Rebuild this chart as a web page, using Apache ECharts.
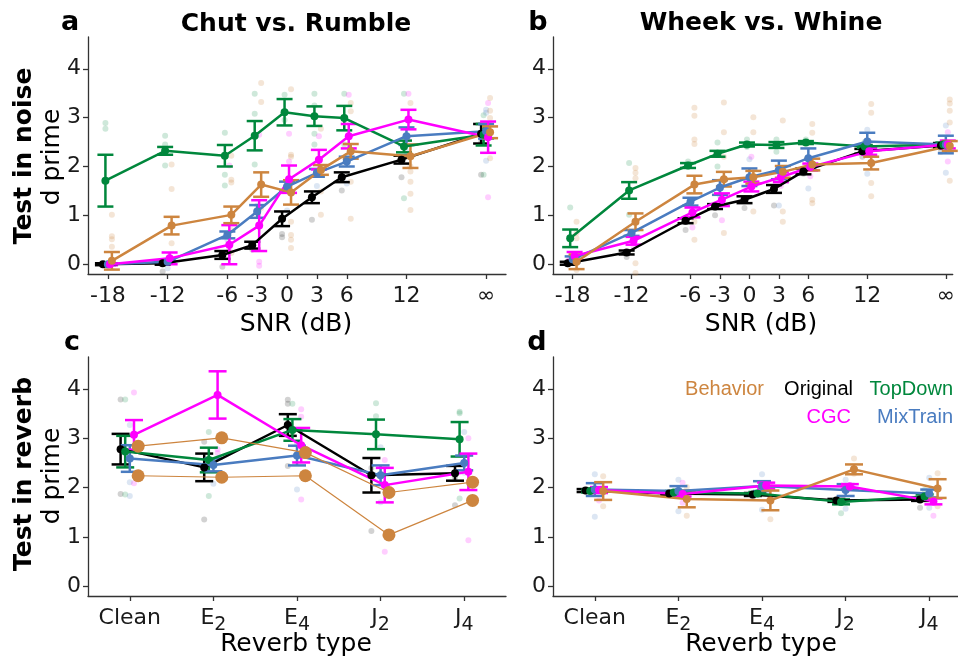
<!DOCTYPE html>
<html>
<head>
<meta charset="utf-8">
<script src="https://cdn.jsdelivr.net/npm/echarts@6/dist/echarts.min.js"></script>
<style>
html, body { margin: 0; padding: 0; background: #ffffff; }
#chart { width: 958px; height: 658px; }
</style>
</head>
<body>
<div id="chart"></div>
<script>
// ---------- axes ----------
const snrValues = [-18, -12, -6, -3, 0, 3, 6, 12, 20];
const snrLabels = ['-18', '-12', '-6', '-3', '0', '3', '6', '12', '\u221E'];
const reverbValues = [0, 1, 2, 3, 4];
const reverbLabels = ['Clean', 'E2', 'E4', 'J2', 'J4'];
const dprimeTicks = [0, 1, 2, 3, 4];

// ---------- Chut vs. Rumble, test in noise (means, s.e.m.) ----------
const chutOriginal = [0.0, 0.02, 0.19, 0.39, 0.93, 1.37, 1.78, 2.14, 2.67];
const chutOriginalErr = [0.02, 0.03, 0.08, 0.07, 0.15, 0.12, 0.1, 0.08, 0.2];
const chutTopDown = [1.71, 2.32, 2.22, 2.63, 3.11, 3.03, 2.99, 2.41, 2.65];
const chutTopDownErr = [0.53, 0.08, 0.22, 0.3, 0.27, 0.2, 0.25, 0.12, 0.22];
const chutMixTrain = [0.0, 0.05, 0.6, 1.08, 1.59, 1.87, 2.1, 2.62, 2.72];
const chutMixTrainErr = [0.02, 0.04, 0.07, 0.13, 0.1, 0.08, 0.1, 0.18, 0.15];
const chutCGC = [0.0, 0.12, 0.4, 0.79, 1.74, 2.14, 2.62, 2.96, 2.6];
const chutCGCErr = [0.02, 0.12, 0.4, 0.52, 0.28, 0.2, 0.25, 0.2, 0.32];
const chutBehavior = [0.07, 0.79, 1.01, 1.63, 1.47, 1.93, 2.31, 2.21, 2.7];
const chutBehaviorErr = [0.18, 0.18, 0.17, 0.25, 0.25, 0.1, 0.15, 0.24, 0.12];

// individual subjects / model instances
const chutOriginalDots = [[0.0], [-0.15], [-0.05], [0.3], [0.62, 0.55], [0.91], [1.51], [1.78], [1.83, 2.5]];
const chutTopDownDots = [[2.89, 2.77], [2.63, 2.45, 2.02], [2.69, 1.83, 1.61], [3.49, 3.08, 2.04], [3.47, 3.1, 2.95], [3.49, 3.25, 2.67, 2.45], [3.49, 2.45], [3.49, 1.35], [3.05, 2.6, 1.83]];
const chutMixTrainDots = [[-0.02], [-0.08], [0.5], [1.2], [1.1], [1.6], [1.65], [2.3], [3.16, 3.1, 2.12]];
const chutCGCDots = [[0.0], [0.12], [2.02, 0.3], [2.65, 0.05, -0.03], [2.67, 2.1], [2.62], [3.47], [3.49, 2.55], [3.3, 1.37]];
const chutBehaviorDots = [[1.01, 0.57, 0.51, 0.36], [2.04, 1.54, 0.43], [2.22, 1.73, 1.67, 0.7, 0.23], [3.71, 3.32, 1.15], [3.58, 2.24, 2.2, 0.87, 0.6, 0.5, 0.33], [2.77, 1.49, 1.01], [3.3, 3.13, 1.69, 0.93], [3.3, 2.0, 1.9, 1.69, 1.44, 1.11], [3.4, 3.14, 2.99, 2.17]];

// ---------- Wheek vs. Whine, test in noise ----------
const wheekOriginal = [0.02, 0.24, 0.89, 1.18, 1.32, 1.54, 1.9, 2.31, 2.43];
const wheekOriginalErr = [0.03, 0.04, 0.05, 0.05, 0.07, 0.08, 0.06, 0.05, 0.05];
const wheekTopDown = [0.53, 1.51, 2.02, 2.26, 2.45, 2.44, 2.49, 2.41, 2.45];
const wheekTopDownErr = [0.18, 0.17, 0.05, 0.06, 0.04, 0.06, 0.03, 0.03, 0.04];
const wheekMixTrain = [0.1, 0.64, 1.28, 1.57, 1.78, 1.93, 2.17, 2.51, 2.45];
const wheekMixTrainErr = [0.06, 0.06, 0.08, 0.15, 0.18, 0.19, 0.2, 0.18, 0.18];
const wheekCGC = [0.17, 0.48, 1.06, 1.32, 1.59, 1.78, 1.99, 2.31, 2.45];
const wheekCGCErr = [0.08, 0.08, 0.1, 0.13, 0.1, 0.1, 0.07, 0.07, 0.08];
const wheekBehavior = [0.05, 0.87, 1.63, 1.74, 1.78, 1.89, 2.04, 2.07, 2.42];
const wheekBehaviorErr = [0.15, 0.17, 0.18, 0.15, 0.13, 0.12, 0.12, 0.13, 0.1];

const wheekOriginalDots = [[0.0], [0.15], [0.7], [1.0], [1.15], [1.2], [1.85], [2.2], [2.3]];
const wheekTopDownDots = [[1.16], [2.07, 1.01], [2.1], [2.49, 2.0], [2.55, 2.4], [2.55, 2.3], [2.55], [2.5], [2.5]];
const wheekMixTrainDots = [[0.15], [0.6], [1.2], [1.4], [2.15], [1.2], [1.55], [1.85, 2.75], [2.84, 1.87]];
const wheekCGCDots = [[0.2], [0.35], [0.75], [0.9], [2.2], [1.6], [1.8], [2.5], [2.1, 2.7]];
const wheekBehaviorDots = [[0.87, 0.64, 0.53, -0.12], [1.97, 1.87, 1.76, 0.02, -0.18], [3.2, 3.04, 2.55, 2.46, 0.87, 0.5], [3.31, 2.7, 2.2, 0.64], [3.01, 2.7, 1.08], [2.94, 1.08, 0.87], [2.87, 2.69, 1.32, 1.25], [3.28, 3.1, 1.66, 1.39], [3.37, 3.29, 3.14, 2.9, 1.71]];

// ---------- Chut vs. Rumble, test in reverb ----------
const revChutOriginal = [2.78, 2.41, 3.27, 2.25, 2.29];
const revChutOriginalErr = [0.31, 0.28, 0.22, 0.35, 0.15];
const revChutTopDown = [2.73, 2.56, 3.17, 3.08, 2.98];
const revChutTopDownErr = [0.32, 0.25, 0.22, 0.3, 0.35];
const revChutMixTrain = [2.59, 2.46, 2.65, 2.25, 2.5];
const revChutMixTrainErr = [0.27, 0.13, 0.2, 0.2, 0.15];
const revChutCGC = [3.07, 3.88, 2.86, 2.05, 2.32];
const revChutCGCErr = [0.3, 0.48, 0.35, 0.35, 0.37];
const revChutAnimal1 = [2.84, 3.01, 2.71, 1.9, 2.11];
const revChutAnimal2 = [2.24, 2.21, 2.24, 1.04, 1.74];

const revChutOriginalDots = [[3.79, 1.87], [2.93, 1.35], [3.78, 3.7, 2.44], [1.12, 2.4], [1.64, 2.2]];
const revChutTopDownDots = [[3.79, 1.86], [3.13, 1.83], [3.7], [3.71, 3.45], [3.54, 3.51, 1.78]];
const revChutMixTrainDots = [[3.27, 2.11, 1.83], [2.08], [1.96, 2.9], [2.82, 1.7], [3.13, 2.3]];
const revChutCGCDots = [[3.93, 2.09], [2.78, 2.7], [3.59, 3.44, 1.76], [2.56, 0.7], [3.0, 0.93]];

// ---------- Wheek vs. Whine, test in reverb ----------
const revWheekOriginal = [1.94, 1.88, 1.86, 1.74, 1.76];
const revWheekOriginalErr = [0.03, 0.03, 0.03, 0.03, 0.03];
const revWheekTopDown = [1.93, 1.9, 1.88, 1.71, 1.82];
const revWheekTopDownErr = [0.03, 0.03, 0.03, 0.05, 0.04];
const revWheekMixTrain = [1.96, 1.93, 2.03, 1.95, 1.88];
const revWheekMixTrainErr = [0.13, 0.1, 0.1, 0.12, 0.08];
const revWheekCGC = [1.95, 1.87, 2.04, 2.02, 1.72];
const revWheekCGCErr = [0.06, 0.05, 0.06, 0.05, 0.06];
const revWheekBehavior = [1.93, 1.77, 1.74, 2.37, 1.98];
const revWheekBehaviorErr = [0.18, 0.17, 0.2, 0.1, 0.19];

const revWheekOriginalDots = [[1.92], [1.85], [1.8], [1.75], [1.59]];
const revWheekTopDownDots = [[1.95], [1.85], [1.9], [1.48], [1.95]];
const revWheekMixTrainDots = [[2.27, 1.41], [2.16, 1.52], [2.27, 1.55], [2.16, 1.57], [2.2, 1.59]];
const revWheekCGCDots = [[1.74], [2.1, 1.69], [2.0], [2.05], [1.43]];
const revWheekBehaviorDots = [[2.23, 1.62], [2.01, 1.43], [2.03, 1.36], [2.59, 2.28], [2.29, 1.62]];

// ---------- styling ----------
const FONT = 'DejaVu Sans';
const TICK_SIZE = 22;
const colors = {
  Behavior: '#CD853F',
  Original: '#000000',
  TopDown: '#00873C',
  CGC: '#FF00FF',
  MixTrain: '#4A7CC0'
};
const faint = {
  Behavior: 'rgba(205,133,63,0.27)',
  Original: 'rgba(0,0,0,0.22)',
  TopDown: 'rgba(0,135,60,0.24)',
  CGC: 'rgba(255,0,255,0.24)',
  MixTrain: 'rgba(74,124,192,0.24)'
};
// horizontal dodge so the groups do not sit on top of each other
const snrShift = { Original: -0.5, TopDown: -0.25, MixTrain: 0, CGC: 0.2, Behavior: 0.4 };
const revShift = { Original: -0.11, TopDown: -0.055, MixTrain: 0, CGC: 0.05, Behavior: 0.1 };

const axisColor = '#333333';

function dotSeries(gi, name, xs, shift, dots) {
  const data = [];
  dots.forEach((list, i) => list.forEach(v => data.push([xs[i] + shift, v])));
  return {
    type: 'scatter', xAxisIndex: gi, yAxisIndex: gi, data: data,
    symbol: 'circle', symbolSize: 6, silent: true, z: 1,
    itemStyle: { color: faint[name] }
  };
}

function lineSeries(gi, name, xs, shift, vals, extra) {
  const base = {
    type: 'line', xAxisIndex: gi, yAxisIndex: gi,
    data: xs.map((x, i) => [x + shift, vals[i]]),
    symbol: 'circle', symbolSize: 8, z: 3,
    lineStyle: { color: colors[name], width: 2.5 },
    itemStyle: { color: colors[name] },
    emphasis: { disabled: true }
  };
  return Object.assign(base, extra || {});
}

function errSeries(gi, name, xs, shift, vals, errs, capHalf) {
  const color = colors[name];
  return {
    type: 'custom', xAxisIndex: gi, yAxisIndex: gi, z: 3,
    data: xs.map((x, i) => [x + shift, vals[i], errs[i]]),
    encode: { x: 0, y: 1 },
    renderItem: function (params, api) {
      const x = api.value(0), y = api.value(1), e = api.value(2);
      const t = api.coord([x, y + e]);
      const b = api.coord([x, y - e]);
      const st = { stroke: color, lineWidth: 2.5 };
      return {
        type: 'group',
        children: [
          { type: 'line', shape: { x1: t[0], y1: t[1], x2: b[0], y2: b[1] }, style: st },
          { type: 'line', shape: { x1: t[0] - capHalf, y1: t[1], x2: t[0] + capHalf, y2: t[1] }, style: st },
          { type: 'line', shape: { x1: b[0] - capHalf, y1: b[1], x2: b[0] + capHalf, y2: b[1] }, style: st }
        ]
      };
    }
  };
}

const series = [];
function addModel(gi, name, xs, shift, vals, errs, dots, cap) {
  if (dots) series.push(dotSeries(gi, name, xs, shift[name], dots));
  series.push(lineSeries(gi, name, xs, shift[name], vals));
  series.push(errSeries(gi, name, xs, shift[name], vals, errs, cap));
}

// panel a
addModel(0, 'Original', snrValues, snrShift, chutOriginal, chutOriginalErr, chutOriginalDots, 8);
addModel(0, 'TopDown', snrValues, snrShift, chutTopDown, chutTopDownErr, chutTopDownDots, 8);
addModel(0, 'MixTrain', snrValues, snrShift, chutMixTrain, chutMixTrainErr, chutMixTrainDots, 8);
addModel(0, 'CGC', snrValues, snrShift, chutCGC, chutCGCErr, chutCGCDots, 8);
addModel(0, 'Behavior', snrValues, snrShift, chutBehavior, chutBehaviorErr, chutBehaviorDots, 8);
// panel b
addModel(1, 'Original', snrValues, snrShift, wheekOriginal, wheekOriginalErr, wheekOriginalDots, 8);
addModel(1, 'TopDown', snrValues, snrShift, wheekTopDown, wheekTopDownErr, wheekTopDownDots, 8);
addModel(1, 'MixTrain', snrValues, snrShift, wheekMixTrain, wheekMixTrainErr, wheekMixTrainDots, 8);
addModel(1, 'CGC', snrValues, snrShift, wheekCGC, wheekCGCErr, wheekCGCDots, 8);
addModel(1, 'Behavior', snrValues, snrShift, wheekBehavior, wheekBehaviorErr, wheekBehaviorDots, 8);
// panel c
addModel(2, 'Original', reverbValues, revShift, revChutOriginal, revChutOriginalErr, revChutOriginalDots, 9);
addModel(2, 'TopDown', reverbValues, revShift, revChutTopDown, revChutTopDownErr, revChutTopDownDots, 9);
addModel(2, 'MixTrain', reverbValues, revShift, revChutMixTrain, revChutMixTrainErr, revChutMixTrainDots, 9);
addModel(2, 'CGC', reverbValues, revShift, revChutCGC, revChutCGCErr, revChutCGCDots, 9);
[revChutAnimal1, revChutAnimal2].forEach(vals => {
  series.push(lineSeries(2, 'Behavior', reverbValues, revShift.Behavior, vals, {
    symbolSize: 13, lineStyle: { color: colors.Behavior, width: 1.2 }, z: 4
  }));
});
// panel d
addModel(3, 'Original', reverbValues, revShift, revWheekOriginal, revWheekOriginalErr, revWheekOriginalDots, 9);
addModel(3, 'TopDown', reverbValues, revShift, revWheekTopDown, revWheekTopDownErr, revWheekTopDownDots, 9);
addModel(3, 'MixTrain', reverbValues, revShift, revWheekMixTrain, revWheekMixTrainErr, revWheekMixTrainDots, 9);
addModel(3, 'CGC', reverbValues, revShift, revWheekCGC, revWheekCGCErr, revWheekCGCDots, 9);
addModel(3, 'Behavior', reverbValues, revShift, revWheekBehavior, revWheekBehaviorErr, revWheekBehaviorDots, 9);

// ---------- axes ----------
// right-hand panels run off the right edge of the canvas, so their range stops at the edge
const grids = [
  { left: 88, top: 37, width: 418, height: 237 },
  { left: 553, top: 37, width: 405, height: 237 },
  { left: 88, top: 357, width: 418, height: 239 },
  { left: 553, top: 357, width: 405, height: 239 }
];

const axisLineStyle = { color: axisColor, width: 1.3 };

function snrAxis(gi, max) {
  return {
    type: 'value', gridIndex: gi, min: -20, max: max,
    axisLine: { show: true, onZero: false, lineStyle: axisLineStyle },
    axisTick: { show: true, customValues: snrValues, length: 5, lineStyle: axisLineStyle },
    axisLabel: {
      customValues: snrValues, margin: 11, fontSize: TICK_SIZE, fontFamily: FONT, color: '#1a1a1a',
      formatter: v => snrLabels[snrValues.indexOf(v)]
    },
    splitLine: { show: false }
  };
}

function reverbAxis(gi, max) {
  return {
    type: 'value', gridIndex: gi, min: -0.5, max: max,
    axisLine: { show: true, onZero: false, lineStyle: axisLineStyle },
    axisTick: { show: true, customValues: reverbValues, length: 5, lineStyle: axisLineStyle },
    axisLabel: {
      customValues: reverbValues, margin: 11, color: '#1a1a1a',
      formatter: v => {
        const lab = reverbLabels[Math.round(v)];
        return lab.length === 2 ? '{b|' + lab[0] + '}{s|' + lab[1] + '}' : '{b|' + lab + '}';
      },
      rich: {
        b: { fontSize: TICK_SIZE, fontFamily: FONT, color: '#1a1a1a', lineHeight: 22, verticalAlign: 'top' },
        s: { fontSize: 19, fontFamily: FONT, color: '#1a1a1a', lineHeight: 36 }
      }
    },
    splitLine: { show: false }
  };
}

function dAxis(gi) {
  return {
    type: 'value', gridIndex: gi, min: -0.2, max: 4.65,
    axisLine: { show: true, onZero: false, lineStyle: axisLineStyle },
    axisTick: { show: true, customValues: dprimeTicks, length: 5, lineStyle: axisLineStyle },
    axisLabel: { customValues: dprimeTicks, margin: 7, fontSize: TICK_SIZE, fontFamily: FONT, color: '#1a1a1a' },
    splitLine: { show: false }
  };
}

// ---------- text ----------
function txt(x, y, text, font, fill, align, rotation) {
  const el = {
    type: 'text', x: x, y: y, silent: true, z: 10,
    style: {
      text: text, font: font, fill: fill || '#000',
      textAlign: align || 'center', textVerticalAlign: 'middle',
      align: align || 'center', verticalAlign: 'middle'
    }
  };
  if (rotation) el.rotation = rotation;
  return el;
}
const bold25 = 'bold 25px "DejaVu Sans"';
const reg25 = '25px "DejaVu Sans"';
const panelFont = 'bold 27px "DejaVu Sans"';
const legendFont = '20px "Liberation Sans"';

const graphics = [
  txt(70, 23, 'a', panelFont),
  txt(538, 23, 'b', panelFont),
  txt(72, 343, 'c', panelFont),
  txt(537, 343, 'd', panelFont),
  txt(296, 24, 'Chut vs. Rumble', bold25),
  txt(761, 23, 'Wheek vs. Whine', bold25),
  txt(296, 324, 'SNR (dB)', reg25),
  txt(761, 324, 'SNR (dB)', reg25),
  txt(296, 644, 'Reverb type', reg25),
  txt(761, 644, 'Reverb type', reg25),
  txt(24, 156, 'Test in noise', bold25, '#000', 'center', Math.PI / 2),
  txt(52, 157, 'd prime', reg25, '#000', 'center', Math.PI / 2),
  txt(24, 474, 'Test in reverb', bold25, '#000', 'center', Math.PI / 2),
  txt(52, 476, 'd prime', reg25, '#000', 'center', Math.PI / 2),
  txt(764, 389, 'Behavior', legendFont, colors.Behavior, 'right'),
  txt(853, 389, 'Original', legendFont, colors.Original, 'right'),
  txt(953, 389, 'TopDown', legendFont, colors.TopDown, 'right'),
  txt(851, 417, 'CGC', legendFont, colors.CGC, 'right'),
  txt(953, 417, 'MixTrain', legendFont, colors.MixTrain, 'right')
];

const chart = echarts.init(document.getElementById('chart'));
chart.setOption({
  animation: false,
  backgroundColor: '#ffffff',
  grid: grids,
  xAxis: [snrAxis(0, 22), snrAxis(1, 20.7), reverbAxis(2, 4.5), reverbAxis(3, 4.344)],
  yAxis: [dAxis(0), dAxis(1), dAxis(2), dAxis(3)],
  series: series,
  graphic: graphics
});
</script>
</body>
</html>
